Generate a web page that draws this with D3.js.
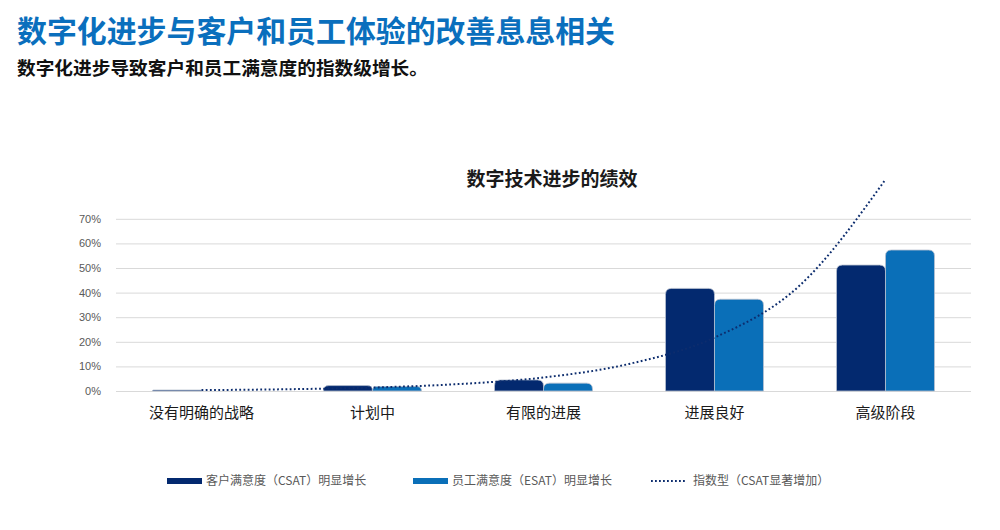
<!DOCTYPE html>
<html>
<head>
<meta charset="utf-8">
<script src="https://cdn.jsdelivr.net/npm/d3@7/dist/d3.min.js"></script>
<style>
  body { margin: 0; background: #fff; }
  svg { display: block; font-family: "Noto Sans CJK SC", "Noto Sans", sans-serif; }
</style>
</head>
<body>
<div id="chart"></div>
<script>
// data
var categories = ["没有明确的战略", "计划中", "有限的进展", "进展良好", "高级阶段"];
var csatValues = [0.4, 2.2, 4.5, 41.7, 51.2];   // 客户满意度 (%)
var esatValues = [0, 1.8, 3.2, 37.3, 57.3];     // 员工满意度 (%)
// exponential trend, sampled every half category (index, value %)
var trendIndex = [0, 0.5, 1, 1.5, 2, 2.5, 3, 3.5, 4];
var trendValues = [0.36, 0.71, 1.4, 2.8, 5.5, 11, 21.7, 43, 86];
var yTicks = [0, 10, 20, 30, 40, 50, 60, 70];
var seriesNames = ["客户满意度（CSAT）明显增长", "员工满意度（ESAT）明显增长", "指数型（CSAT显著增加）"];

var width = 1000, height = 530;
var darkBlue = "#03296f", lightBlue = "#0a6fb8", titleBlue = "#0a6fbd";

var svg = d3.select("#chart").append("svg")
    .attr("width", width).attr("height", height);

// headings
svg.append("text").attr("x", 17).attr("y", 42)
    .attr("textLength", 598).attr("lengthAdjust", "spacingAndGlyphs")
    .style("font-size", "30px").style("font-weight", "bold").style("fill", titleBlue)
    .text("数字化进步与客户和员工体验的改善息息相关");
svg.append("text").attr("x", 17).attr("y", 75)
    .attr("textLength", 411).attr("lengthAdjust", "spacingAndGlyphs")
    .style("font-size", "18.5px").style("font-weight", "bold").style("fill", "#111")
    .text("数字化进步导致客户和员工满意度的指数级增长。");
svg.append("text").attr("x", 552).attr("y", 186).attr("text-anchor", "middle")
    .style("font-size", "19px").style("font-weight", "bold").style("fill", "#1a1a1a")
    .text("数字技术进步的绩效");

// scales
var x = d3.scaleBand().domain(categories).range([116, 971])
    .paddingInner(0.427).paddingOuter(0.2135);
var x1 = d3.scaleBand().domain(["csat", "esat"]).range([0, x.bandwidth()]);
var y = d3.scaleLinear().domain([0, 70]).range([391, 218.8]);

// gridlines + y labels
var yAxis = d3.axisLeft(y).tickValues(yTicks).tickSize(-(971 - 116))
    .tickFormat(function (d) { return d + "%"; }).tickPadding(15);
var gy = svg.append("g").attr("transform", "translate(116,0)").call(yAxis);
gy.select(".domain").remove();
gy.selectAll(".tick line").attr("stroke", "#d9d9d9").attr("stroke-width", 1);
gy.selectAll(".tick text").style("font-size", "11px").style("fill", "#595959")
    .style("font-family", "'Liberation Sans', Arial, sans-serif");

// x labels
var xAxis = d3.axisBottom(x).tickSize(0).tickPadding(16);
var gx = svg.append("g").attr("transform", "translate(0,391)").call(xAxis);
gx.select(".domain").remove();
gx.selectAll(".tick text").style("font-size", "15px").style("fill", "#1a1a1a")
    .style("font-family", "'Noto Sans CJK SC', sans-serif");

// bars with rounded tops
function topRounded(x0, w, yTop, yBase, r) {
    var h = yBase - yTop;
    r = Math.min(r, h, w / 2);
    return "M" + x0 + "," + yBase +
        "V" + (yTop + r) +
        "Q" + x0 + "," + yTop + " " + (x0 + r) + "," + yTop +
        "H" + (x0 + w - r) +
        "Q" + (x0 + w) + "," + yTop + " " + (x0 + w) + "," + (yTop + r) +
        "V" + yBase + "Z";
}

var rows = categories.map(function (c, i) {
    return [{cat: c, key: "csat", v: csatValues[i]}, {cat: c, key: "esat", v: esatValues[i]}];
});
var groups = svg.append("g").selectAll("g").data(rows).join("g")
    .attr("transform", function (d) { return "translate(" + x(d[0].cat) + ",0)"; });
groups.selectAll("path").data(function (d) { return d.filter(function (e) { return e.v > 0; }); })
    .join("path")
    .attr("d", function (d) {
        return topRounded(x1(d.key), x1.bandwidth(), y(d.v), y(0), 6);
    })
    .attr("fill", function (d) { return d.key === "csat" ? darkBlue : lightBlue; })
    .attr("stroke", "#b7c0cf").attr("stroke-width", 0.8);

// trend line
var trend = trendIndex.map(function (t, i) { return {t: t, v: trendValues[i]}; });
var xc = function (t) { return x(categories[0]) + x.bandwidth() / 2 + t * x.step(); };
var line = d3.line().x(function (d) { return xc(d.t); }).y(function (d) { return y(d.v); })
    .curve(d3.curveMonotoneX);
svg.append("path").datum(trend).attr("d", line)
    .attr("fill", "none").attr("stroke", "#0d2d6e").attr("stroke-width", 2)
    .attr("stroke-dasharray", "1.8,2.4");

// legend
var legend = svg.append("g").attr("transform", "translate(0,481)");
var legendX = [167, 413, 651];
legend.append("rect").attr("x", legendX[0]).attr("y", -3).attr("width", 35).attr("height", 6)
    .attr("fill", darkBlue);
legend.append("rect").attr("x", legendX[1]).attr("y", -3).attr("width", 35).attr("height", 6)
    .attr("fill", lightBlue);
legend.append("line").attr("x1", legendX[2]).attr("x2", legendX[2] + 35).attr("y1", 0).attr("y2", 0)
    .attr("stroke", "#0d2d6e").attr("stroke-width", 2).attr("stroke-dasharray", "1.8,2.2");
legend.selectAll("text.lbl").data(seriesNames).join("text").attr("class", "lbl")
    .attr("x", function (d, i) { return legendX[i] + 39 + (i === 2 ? 3 : 0); })
    .attr("y", 0).attr("dy", "0.35em")
    .style("font-size", "12px").style("fill", "#595959")
    .text(function (d) { return d; });
</script>
</body>
</html>
